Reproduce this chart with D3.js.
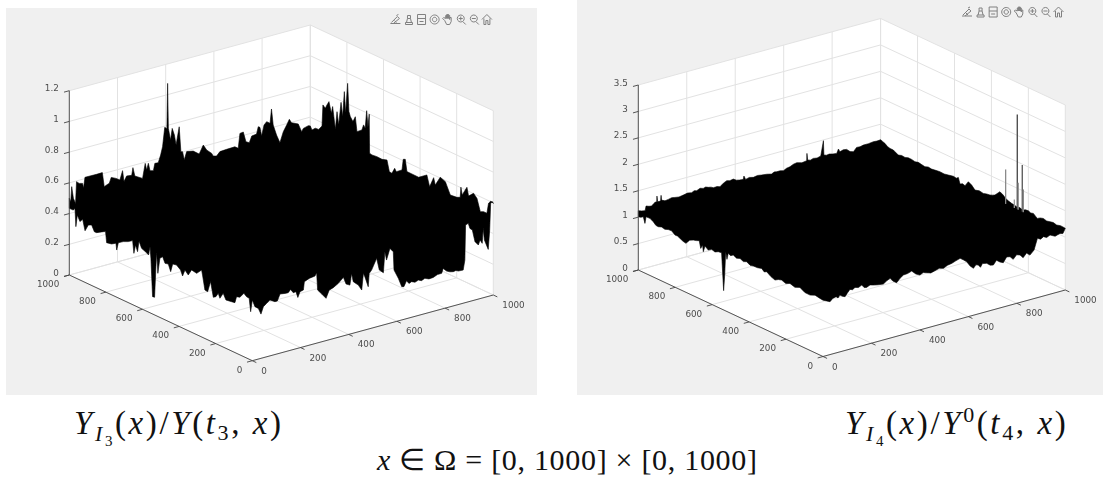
<!DOCTYPE html>
<html>
<head>
<meta charset="utf-8">
<script src="https://cdn.jsdelivr.net/npm/d3@7"></script>
<style>
  html, body { margin: 0; padding: 0; background: #fff; }
  svg { display: block; }
  .tick { font-family: "DejaVu Sans", sans-serif; font-size: 8.8px; fill: #4d4d4d; }
  .math { font-family: "Liberation Serif", serif; fill: #111; }
</style>
</head>
<body>
<div id="chart"></div>
<script>
// tick labels
var xyTicks = [0, 200, 400, 600, 800, 1000];
var zTicksI3 = [0, 0.2, 0.4, 0.6, 0.8, 1, 1.2];
var zTicksI4 = [0, 0.5, 1, 1.5, 2, 2.5, 3, 3.5];

// silhouette of panel I3: [position along edge, z]
var i3BackX = [[0,.5],[6,.475],[10,.571],[17,.492],[26,.455],[30,.595],[41,.579],[55,.573],[59,.539],[65,.608],[86,.608],[113,.607],[137,.608],[145,.513],[155,.52],[166,.526],[174,.561],[194,.546],[210,.529],[221,.585],[227,.511],[238,.543],[259,.538],[264,.586],[272,.528],[304,.499],[315,.592],[321,.546],[328,.587],[335,.536],[349,.53],[355,.575],[369,.573],[379,.619],[387,.67],[396,.792],[402,.783],[405,.78],[408,1.073],[411,.779],[420,.699],[427,.772],[436,.725],[443,.657],[456,.77],[463,.605],[470,.602],[477,.545],[487,.595],[514,.587],[539,.557],[556,.608],[570,.57],[591,.539],[597,.519],[611,.513],[625,.536],[653,.539],[687,.541],[701,.525],[708,.619],[722,.622],[733,.554],[747,.542],[757,.581],[777,.585],[784,.63],[791,.623],[798,.564],[808,.631],[819,.648],[833,.631],[839,.722],[846,.615],[860,.543],[874,.488],[888,.553],[902,.591],[913,.623],[922,.597],[950,.577],[964,.521],[971,.539],[992,.548],[1000,.543]];
var i3BackY = [[991,.521],[973,.543],[954,.546],[936,.578],[931,.718],[918,.703],[909,.73],[898,.758],[885,.689],[878,.737],[863,.597],[854,.717],[845,.635],[832,.79],[823,.702],[814,.87],[807,.733],[796,.934],[789,.754],[781,.725],[767,.701],[754,.74],[745,.648],[718,.674],[709,.712],[700,.695],[692,.814],[685,.714],[678,.799],[676,.546],[663,.542],[636,.546],[608,.544],[581,.555],[568,.486],[554,.483],[539,.524],[530,.507],[499,.536],[492,.609],[481,.615],[472,.54],[445,.54],[408,.539],[363,.579],[348,.511],[326,.582],[317,.539],[290,.605],[262,.592],[235,.52],[199,.525],[181,.535],[177,.603],[170,.557],[144,.621],[135,.569],[108,.602],[89,.579],[71,.503],[53,.513],[35,.513],[26,.583],[13,.605],[0,.596]];
var i3FrontX = [[0,.395],[11,.347],[25,.33],[36,.288],[46,.332],[59,.348],[73,.364],[94,.344],[104,.344],[115,.385],[136,.38],[149,.379],[159,.396],[170,.37],[181,.372],[189,.331],[198,.365],[212,.37],[216,.422],[236,.435],[260,.44],[267,.459],[271,.344],[288,.311],[306,.275],[319,.323],[336,.332],[357,.351],[378,.381],[389,.333],[405,.319],[412,.392],[419,.335],[440,.304],[454,.266],[461,.372],[467,.347],[481,.276],[485,.361],[495,.378],[516,.446],[527,.365],[544,.34],[550,.474],[557,.417],[571,.487],[585,.459],[588,.339],[606,.277],[620,.217],[629,.213],[640,.247],[650,.225],[661,.232],[675,.222],[689,.23],[702,.221],[716,.23],[733,.219],[751,.221],[768,.232],[786,.233],[792,.262],[806,.239],[820,.228],[834,.223],[845,.226],[855,.218],[875,.216],[882,.278],[885,.505],[896,.511],[903,.475],[913,.46],[924,.38],[938,.352],[945,.382],[954,.356],[958,.452],[963,.374],[979,.306],[985,.429],[989,.601],[997,.609],[1000,.596]];
var i3FrontY = [[1000,.434],[978,.435],[969,.451],[964,.335],[956,.415],[942,.38],[927,.403],[914,.336],[896,.383],[878,.394],[863,.358],[851,.359],[814,.386],[802,.393],[796,.324],[769,.331],[745,.349],[741,.307],[732,.36],[705,.382],[678,.397],[654,.417],[647,.338],[638,.398],[627,.36],[619,.434],[605,.394],[578,.381],[567,.372],[559,.43],[554,.357],[545,.113],[534,.115],[523,.418],[516,.281],[505,.385],[490,.404],[477,.368],[459,.373],[446,.331],[435,.387],[414,.392],[392,.372],[381,.339],[368,.385],[350,.363],[332,.406],[304,.399],[277,.436],[272,.406],[259,.316],[244,.313],[228,.388],[213,.294],[199,.306],[186,.335],[177,.308],[159,.35],[144,.315],[113,.321],[95,.325],[86,.369],[68,.375],[46,.413],[31,.399],[17,.397],[9,.314],[0,.395]];

// silhouette of panel I4
var i4BackX = [[0,1.122],[14,1.1],[28,1.087],[32,1.17],[44,1.15],[55,1.141],[62,1.17],[69,1.193],[76,1.197],[77,1.302],[80,1.191],[92,1.188],[94,1.294],[96,1.202],[110,1.17],[124,1.18],[138,1.195],[151,1.183],[168,1.17],[186,1.184],[203,1.2],[220,1.185],[231,1.21],[241,1.197],[255,1.225],[268,1.207],[278,1.22],[289,1.2],[300,1.19],[310,1.167],[325,1.17],[337,1.151],[351,1.2],[365,1.231],[378,1.215],[392,1.227],[405,1.19],[417,1.177],[433,1.169],[436,1.229],[443,1.157],[458,1.175],[475,1.155],[492,1.17],[509,1.156],[530,1.145],[550,1.123],[561,1.15],[571,1.141],[585,1.14],[599,1.125],[612,1.155],[626,1.166],[640,1.195],[654,1.207],[675,1.18],[695,1.193],[696,1.33],[699,1.201],[710,1.185],[722,1.203],[738,1.19],[753,1.209],[764,1.485],[766,1.21],[777,1.195],[788,1.202],[803,1.185],[819,1.176],[826,1.25],[832,1.19],[846,1.21],[860,1.2],[874,1.14],[888,1.121],[901,1.186],[915,1.18],[929,1.195],[950,1.195],[970,1.207],[985,1.2],[1000,1.207]];
var i4BackY = [[988,1.19],[977,1.176],[963,1.14],[949,1.125],[931,1.124],[922,1.107],[904,1.073],[886,1.095],[868,1.088],[850,1.11],[832,1.109],[814,1.095],[796,1.112],[778,1.1],[760,1.089],[742,1.112],[724,1.103],[702,1.115],[679,1.127],[656,1.122],[634,1.138],[606,1.16],[590,1.15],[579,1.182],[570,1.071],[556,1.1],[543,1.084],[525,1.189],[507,1.155],[489,1.09],[466,1.115],[444,1.101],[426,1.12],[408,1.129],[394,1.15],[381,1.173],[354,1.28],[336,1.246],[323,1.204],[307,1.18],[291,1.163],[276,1.155],[264,1.144],[247,1.155],[231,1.134],[215,1.165],[200,1.172],[187,1.15],[173,1.166],[152,1.106],[136,1.14],[119,1.159],[101,1.14],[83,1.156],[65,1.17],[47,1.152],[26,1.175],[5,1.169],[0,1.167]];
var i4FrontX = [[0,1.066],[29,1],[40,1.049],[54,1.064],[62,1.03],[70,1.074],[80,1.04],[91,1.017],[100,1.07],[111,1.13],[122,1.11],[132,1.141],[146,1.12],[160,1.151],[170,1.09],[180,1.081],[194,1.11],[208,1.09],[228,1.07],[249,1.057],[263,1.1],[277,1.13],[290,1.06],[304,1.013],[318,1.08],[332,1.124],[349,1.13],[366,1.156],[383,1.08],[400,1.037],[414,1.07],[428,1.047],[445,1.02],[462,1.042],[480,1.065],[497,1.042],[514,1.08],[531,1.093],[548,1.12],[566,1.145],[579,1.1],[593,1.047],[607,.95],[621,.887],[631,.94],[641,.924],[650,.87],[658,.93],[676,.912],[690,.86],[703,.846],[716,.92],[730,.87],[744,.838],[758,.93],[772,.917],[785,.85],[799,.92],[813,.897],[826,.83],[840,.9],[854,.844],[871,.918],[885,1.122],[898,1.09],[910,1.122],[923,1.09],[937,1.119],[958,1.07],[978,1.098],[990,1.08],[1000,1.167]];
var i4FrontY = [[1000,1.008],[986,1.02],[973,1.052],[964,.941],[958,1.076],[937,1.08],[919,1.046],[905,1],[892,.996],[874,1.02],[856,1.005],[838,1.03],[820,1.038],[801,.986],[788,.99],[774,.967],[758,.94],[742,.926],[722,1.02],[702,1.054],[686,1.07],[670,1.095],[662,.962],[652,1.042],[648,.922],[639,1.044],[621,.997],[603,1.04],[585,1.02],[567,1.055],[549,1.065],[543,.671],[538,.365],[532,.689],[527,1.12],[520,.987],[513,1.112],[500,1.09],[486,1.125],[468,1.095],[449,1.12],[431,1.09],[413,1.117],[395,1.08],[377,1.094],[354,1.1],[332,1.123],[318,1.08],[305,1.105],[282,1.05],[260,1.021],[242,1.06],[224,1.08],[201,1.05],[179,1.09],[152,1.06],[125,1.103],[98,1.05],[70,1.047],[43,1.09],[16,1.072],[0,1.066]];
// thin spikes standing on the x=1000 edge: [y, z]
var i4Spikes = [[323,1.752],[260,2.895],[255,1.612],[233,1.982],[227,1.531],[276,1.262]];
var i4SpikeGrey = ["#8a8a8a", "#444", "#888", "#555", "#888", "#999"];

var width = 1103, height = 481;
var svg = d3.select("#chart").append("svg")
    .attr("width", width)
    .attr("height", height);

// the source is a slightly soft screenshot
svg.append("defs").append("filter").attr("id", "soft")
    .append("feGaussianBlur").attr("stdDeviation", 0.35);

function panel(o) {
    // projection of the 3d box onto the page, one scale per component
    var xToPx = d3.scaleLinear().domain([0, 1000]).range([0, o.right[0] - o.front[0]]),
        xToPy = d3.scaleLinear().domain([0, 1000]).range([0, o.right[1] - o.front[1]]),
        yToPx = d3.scaleLinear().domain([0, 1000]).range([0, o.left[0] - o.front[0]]),
        yToPy = d3.scaleLinear().domain([0, 1000]).range([0, o.left[1] - o.front[1]]),
        zToPy = d3.scaleLinear().domain([0, o.zMax]).range([0, -o.zHeight]);

    function p(x, y, z) {
        return [o.front[0] + xToPx(x) + yToPx(y), o.front[1] + xToPy(x) + yToPy(y) + zToPy(z)];
    }

    var g = svg.append("g").attr("filter", "url(#soft)");
    g.append("rect")
        .attr("x", o.bg[0]).attr("y", o.bg[1])
        .attr("width", o.bg[2]).attr("height", o.bg[3])
        .attr("fill", "#f0f0f0");

    var walls = [
        [p(0, 0, 0), p(1000, 0, 0), p(1000, 1000, 0), p(0, 1000, 0)],
        [p(0, 1000, 0), p(1000, 1000, 0), p(1000, 1000, o.zMax), p(0, 1000, o.zMax)],
        [p(1000, 1000, 0), p(1000, 0, 0), p(1000, 0, o.zMax), p(1000, 1000, o.zMax)]
    ];
    g.selectAll("path.wall").data(walls).enter().append("path")
        .attr("class", "wall")
        .attr("d", function(d) { return "M" + d.join("L") + "Z"; })
        .attr("fill", "#fff");

    // grid
    var grid = [];
    xyTicks.forEach(function(t) {
        grid.push([p(t, 0, 0), p(t, 1000, 0)]);
        grid.push([p(t, 1000, 0), p(t, 1000, o.zMax)]);
        grid.push([p(0, t, 0), p(1000, t, 0)]);
        grid.push([p(1000, t, 0), p(1000, t, o.zMax)]);
    });
    o.zTicks.forEach(function(t) {
        grid.push([p(0, 1000, t), p(1000, 1000, t)]);
        grid.push([p(1000, 1000, t), p(1000, 0, t)]);
    });
    g.selectAll("path.grid").data(grid).enter().append("path")
        .attr("class", "grid")
        .attr("d", function(d) { return "M" + d.join("L"); })
        .attr("fill", "none")
        .attr("stroke", "#e2e2e2")
        .attr("stroke-width", 1);

    // solid surface outline
    var outline = []
        .concat(o.backX.map(function(d) { return p(d[0], 1000, d[1]); }))
        .concat(o.backY.map(function(d) { return p(1000, d[0], d[1]); }))
        .concat(o.frontX.slice().reverse().map(function(d) { return p(d[0], 0, d[1]); }))
        .concat(o.frontY.slice().reverse().map(function(d) { return p(0, d[0], d[1]); }));
    g.append("path")
        .attr("d", d3.line()(outline) + "Z")
        .attr("fill", "#000")
        .attr("stroke", "#000")
        .attr("stroke-width", 0.6)
        .attr("stroke-linejoin", "round");

    if (o.spikes) {
        g.selectAll("line.spike").data(o.spikes).enter().append("line")
            .attr("class", "spike")
            .attr("x1", function(d) { return p(1000, d[0], 1.1)[0]; })
            .attr("y1", function(d) { return p(1000, d[0], 1.1)[1]; })
            .attr("x2", function(d) { return p(1000, d[0], d[1])[0]; })
            .attr("y2", function(d) { return p(1000, d[0], d[1])[1]; })
            .attr("stroke", function(d, i) { return o.spikeGrey[i]; })
            .attr("stroke-width", 1.3);
    }

    // axes
    var axes = [
        [p(0, 0, 0), p(1000, 0, 0)],
        [p(0, 0, 0), p(0, 1000, 0)],
        [p(0, 1000, 0), p(0, 1000, o.zMax)]
    ];
    xyTicks.forEach(function(t) {
        axes.push([p(t, 0, 0), p(t, -22, 0)]);
        axes.push([p(0, t, 0), p(-22, t, 0)]);
    });
    o.zTicks.forEach(function(t) {
        axes.push([p(0, 1000, t), p(-22, 1000, t)]);
    });
    g.selectAll("path.axis").data(axes).enter().append("path")
        .attr("class", "axis")
        .attr("d", function(d) { return "M" + d.join("L"); })
        .attr("fill", "none")
        .attr("stroke", "#444")
        .attr("stroke-width", 0.9);

    // tick labels
    g.selectAll("text.xl").data(xyTicks).enter().append("text")
        .attr("class", "tick xl")
        .attr("x", function(d) { return p(d, 0, 0)[0] + 9; })
        .attr("y", function(d) { return p(d, 0, 0)[1] + 13; })
        .text(function(d) { return d; });
    g.selectAll("text.yl").data(xyTicks).enter().append("text")
        .attr("class", "tick yl")
        .attr("text-anchor", "end")
        .attr("x", function(d) { return p(0, d, 0)[0] - 10; })
        .attr("y", function(d) { return p(0, d, 0)[1] + 12; })
        .text(function(d) { return d; });
    g.selectAll("text.zl").data(o.zTicks).enter().append("text")
        .attr("class", "tick zl")
        .attr("text-anchor", "end")
        .attr("x", function(d) { return p(0, 1000, d)[0] - 10.5; })
        .attr("y", function(d) { return p(0, 1000, d)[1] + 0.5; })
        .text(function(d) { return d; });

    toolbar(g, o.tools[0], o.tools[1]);
}

// the little axes toolbar, eight icons in a row
function toolbar(g, x0, y0) {
    var icons = [
        "M-5 4H5M-4 3L2-3L4-1L-2 4M1-4L3-5M-1 1L1 3",
        "M-3 5H4V3H-3ZM-2 3L-1-1V-4H2V-1L3 3M-1-1H2",
        "M-4-5H4V5H-4ZM-4-1H4M-2 2H2",
        "M4.5 0A4.5 4.5 0 1 1 4.5-.01ZM2.2 0A2.2 2.2 0 1 1 2.2-.01Z",
        "M-3 1L-5-1L-4-2L-2-1V-4L-1-4V-1V-5H0V-1V-5H1V-1V-4H2V0V-2H3.5V2L2 5H-1Z",
        "M3.5-1A3.5 3.5 0 1 1 3.5-1.01M2 2L5 5M-2-1H2M0-3V1",
        "M3.5-1A3.5 3.5 0 1 1 3.5-1.01M2 2L5 5M-2-1H2",
        "M-5 0L0-5L5 0M-3-1V5H-1V1H1V5H3V-1"
    ];
    var step = d3.scaleLinear().domain([0, 7]).range([x0, x0 + 91.5]);
    g.selectAll("path.icon").data(icons).enter().append("path")
        .attr("class", "icon")
        .attr("transform", function(d, i) { return "translate(" + step(i) + "," + y0 + ")"; })
        .attr("d", function(d) { return d; })
        .attr("fill", "none")
        .attr("stroke", "#808080")
        .attr("stroke-width", 1);
}

panel({
    bg: [6, 8, 531, 387],
    front: [252.3, 360.7], left: [69.3, 275], right: [493.3, 295],
    zMax: 1.2, zHeight: 184.3, zTicks: zTicksI3,
    backX: i3BackX, backY: i3BackY, frontX: i3FrontX, frontY: i3FrontY,
    tools: [395.4, 19.5]
});
panel({
    bg: [577, 0, 526, 395],
    front: [823, 356.5], left: [638.3, 270], right: [1065.3, 290],
    zMax: 3.5, zHeight: 185, zTicks: zTicksI4,
    backX: i4BackX, backY: i4BackY, frontX: i4FrontX, frontY: i4FrontY,
    spikes: i4Spikes, spikeGrey: i4SpikeGrey,
    tools: [967, 12]
});

// captions, typeset by hand with tspans
function caption(x, y, size, spacing, parts) {
    var t = svg.append("text").attr("class", "math")
        .attr("x", x).attr("y", y)
        .attr("font-size", size)
        .attr("letter-spacing", spacing);
    var shift = 0;
    parts.forEach(function(q) {
        var level = q[2] || 0;
        t.append("tspan")
            .attr("dy", level - shift)
            .attr("font-style", q[1] ? "italic" : "normal")
            .attr("font-size", q[3] || null)
            .text(q[0]);
        shift = level;
    });
}
caption(74, 434, 33, 2.6, [["Y", 1], ["I", 1, 7, 22], ["3", 0, 12, 15], ["(", 0], ["x", 1], [")/", 0], ["Y", 1], ["(", 0], ["t", 1], ["3", 0, 6, 22], [",", 0], [" ", 0], ["x", 1], [")", 0]]);
caption(845, 434, 33, 2.6, [["Y", 1], ["I", 1, 7, 22], ["4", 0, 12, 15], ["(", 0], ["x", 1], [")/", 0], ["Y", 1], ["0", 0, -12, 22], ["(", 0], ["t", 1], ["4", 0, 6, 22], [",", 0], [" ", 0], ["x", 1], [")", 0]]);
caption(377, 470, 30, 0.7, [["x", 1], [" ∈ Ω = [0, 1000] × [0, 1000]", 0]]);
</script>
</body>
</html>
